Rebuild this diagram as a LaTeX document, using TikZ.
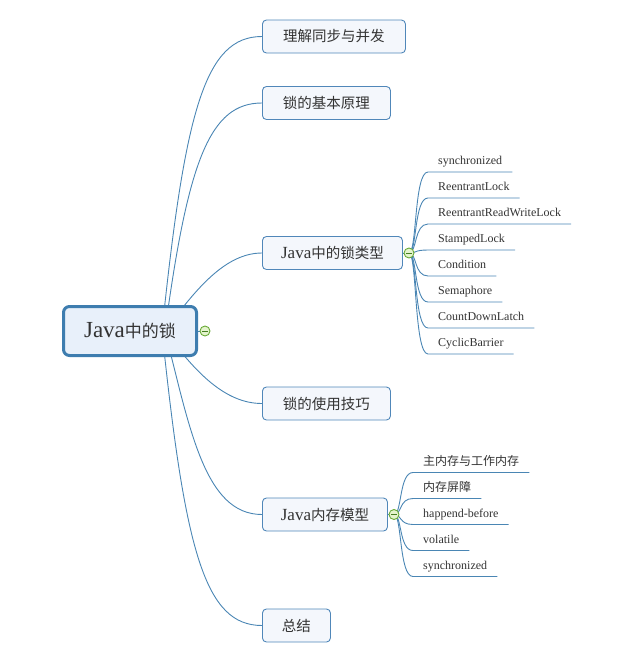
\documentclass[tikz,border=0pt]{standalone}
\usepackage{fontspec}
\setmainfont{Liberation Serif}
\newfontfamily\cjk{Noto Sans CJK SC}
\usetikzlibrary{backgrounds,calc}
\definecolor{conn}{RGB}{74,134,180}
\definecolor{rootborder}{RGB}{62,125,175}
\definecolor{rootfill}{RGB}{232,240,250}
\definecolor{childfill}{RGB}{244,247,252}
\definecolor{childborder}{RGB}{80,135,185}
\definecolor{txt}{RGB}{51,51,51}
\definecolor{cgreen}{RGB}{105,170,55}
\definecolor{cgfill}{RGB}{228,244,205}
\definecolor{cgdark}{RGB}{70,125,35}
\newcommand{\rlat}[1]{{\fontsize{23}{23}\selectfont #1}}
\newcommand{\rcjk}[1]{{\cjk\fontsize{17}{17}\selectfont #1}}
\newcommand{\clat}[1]{{\fontsize{17}{17}\selectfont #1}}
\newcommand{\ccjk}[1]{{\cjk\fontsize{14.5}{14.5}\selectfont #1}}
\newcommand{\llat}[1]{{\fontsize{12}{12}\selectfont #1}}
\newcommand{\lcjk}[1]{{\cjk\fontsize{12}{12}\selectfont #1}}
\tikzset{
  rootbox/.style={draw=rootborder, line width=3pt, fill=rootfill, rounded corners=6pt,
    minimum width=133pt, minimum height=49pt, inner sep=0pt, text=txt},
  childbox/.style={draw=childborder, line width=0.9pt, fill=childfill, rounded corners=4pt,
    minimum height=33pt, inner sep=0pt, anchor=west, text=txt},
  leafnode/.style={anchor=south west, inner xsep=10pt, inner ysep=4pt, text height=9pt,
    text depth=3pt, text=txt},
  connline/.style={draw=conn, line width=0.9pt},
  collapse/.style={circle, draw=cgreen, line width=0.9pt, fill=cgfill, minimum size=10pt, inner sep=0pt},
}
\begin{document}
\begin{tikzpicture}[x=1pt,y=-1pt]
\useasboundingbox (0,0) rectangle (637,662);
% root
\node[rootbox] (root) at (130,331) {\rlat{Java}\rcjk{中的锁}};
\node[collapse] (rc) at (205,331) {};
\draw[cgdark, line width=1pt] ($(rc)+(-3,0)$) -- ($(rc)+(3,0)$);
% children
\node[childbox, minimum width=143pt] (c1) at (262,36.5) {\ccjk{理解同步与并发}};
\node[childbox, minimum width=128pt] (c2) at (262,103) {\ccjk{锁的基本原理}};
\node[childbox, minimum width=140pt] (c3) at (262,253) {\clat{Java}\ccjk{中的锁类型}};
\node[childbox, minimum width=128pt] (c4) at (262,403.5) {\ccjk{锁的使用技巧}};
\node[childbox, minimum width=125pt] (c5) at (262,514.5) {\clat{Java}\ccjk{内存模型}};
\node[childbox, minimum width=68pt] (c6) at (262,625.5) {\ccjk{总结}};
\node[collapse] (cc3) at (409,253) {};
\draw[cgdark, line width=1pt] ($(cc3)+(-3,0)$) -- ($(cc3)+(3,0)$);
\node[collapse] (cc5) at (394,514.5) {};
\draw[cgdark, line width=1pt] ($(cc5)+(-3,0)$) -- ($(cc5)+(3,0)$);
% leaves of c3
\node[leafnode] (a1) at (428,172) {\llat{synchronized}};
\node[leafnode] (a2) at (428,198) {\llat{ReentrantLock}};
\node[leafnode] (a3) at (428,224) {\llat{ReentrantReadWriteLock}};
\node[leafnode] (a4) at (428,250) {\llat{StampedLock}};
\node[leafnode] (a5) at (428,276) {\llat{Condition}};
\node[leafnode] (a6) at (428,302) {\llat{Semaphore}};
\node[leafnode] (a7) at (428,328) {\llat{CountDownLatch}};
\node[leafnode] (a8) at (428,354) {\llat{CyclicBarrier}};
% leaves of c5
\node[leafnode] (b1) at (413,472.5) {\lcjk{主内存与工作内存}};
\node[leafnode] (b2) at (413,498.5) {\lcjk{内存屏障}};
\node[leafnode] (b3) at (413,524.5) {\llat{happend-before}};
\node[leafnode] (b4) at (413,550.5) {\llat{volatile}};
\node[leafnode] (b5) at (413,576.5) {\llat{synchronized}};
% start points inside root
\coordinate (s1) at (162,331);
\coordinate (s2) at (165,331);
\begin{scope}[on background layer]
\draw[connline] (s1) .. controls (185,110) and (205,36.5) .. (c1.west);
\draw[connline] (s2) .. controls (188,160) and (210,103) .. (c2.west);
\draw[connline] (s2) .. controls (195,290) and (225,253) .. (c3.west);
\draw[connline] (s2) .. controls (195,372) and (225,403.5) .. (c4.west);
\draw[connline] (s2) .. controls (190,430) and (205,514.5) .. (c5.west);
\draw[connline] (s1) .. controls (185,552) and (205,625.5) .. (c6.west);
\draw[connline] (root.east) -- (rc);
\draw[connline] (c3.east) -- (cc3);
\draw[connline] (c5.east) -- (cc5);
\foreach \l in {a1,a2,a3,a4,a5,a6,a7,a8}{
  \draw[connline] (cc3.center) .. controls +(8,0) and +(-14,0) .. (\l.south west) -- (\l.south east);
}
\foreach \l in {b1,b2,b3,b4,b5}{
  \draw[connline] (cc5.center) .. controls +(8,0) and +(-14,0) .. (\l.south west) -- (\l.south east);
}
\end{scope}
\end{tikzpicture}
\end{document}
